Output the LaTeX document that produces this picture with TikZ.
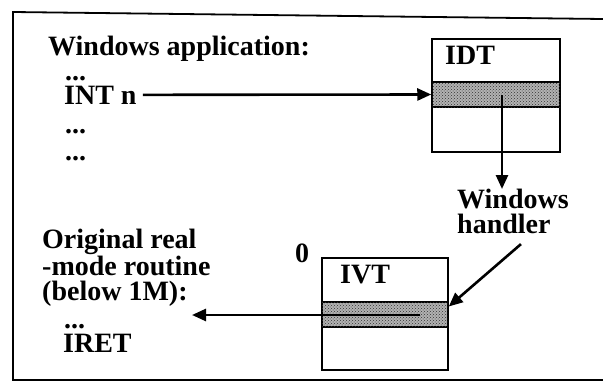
\documentclass[tikz,border=0pt]{standalone}
\usepackage{fontspec}
\setmainfont{Liberation Serif}
\usetikzlibrary{arrows.meta,patterns}
\begin{document}
\begin{tikzpicture}[x=1pt,y=-1pt,
    txt/.style={anchor=base west,inner sep=0pt,font=\fontsize{28}{25}\selectfont\bfseries},
    tablebox/.style={draw,line width=1.5pt,inner sep=0pt},
    slot/.style={draw,line width=1.5pt,inner sep=0pt,fill=black!30,
      postaction={pattern=crosshatch dots,pattern color=black!80}},
    ptr/.style={line width=2.6pt,-{Triangle[length=14pt,width=12pt]}}]
    \useasboundingbox (0,0) rectangle (603,391);
    %cadre
    \draw[line width=1.8pt] (603,19) -- (13,12) -- (13,380) -- (603,380);
    %application Windows
    \node[txt] (app) at (48,55) {Windows application:};
    \node[txt] (dotsa) at (65,80) {...};
    \node[txt] (intn) at (64,104) {INT n};
    \node[txt] (dotsb) at (65,133) {...};
    \node[txt] (dotsc) at (65,160) {...};
    %IDT
    \node[tablebox,minimum width=128pt,minimum height=113pt] (idt) at (496,95.5) {};
    \node[slot,minimum width=128pt,minimum height=25pt] (idtslot) at (496,94.5) {};
    \node[txt] (idtlbl) at (445,64) {IDT};
    %gestionnaire Windows
    \node[txt,anchor=north west,align=left] (winh) at (457,189) {Windows\\handler};
    %IVT
    \node[txt] (zero) at (295,262) {0};
    \node[tablebox,minimum width=126pt,minimum height=112pt] (ivt) at (385,314) {};
    \node[slot,minimum width=126pt,minimum height=25pt] (ivtslot) at (385,314.5) {};
    \node[txt] (ivtlbl) at (340,283) {IVT};
    %routine en mode reel
    \node[txt] (orig) at (42,248) {Original real};
    \node[txt] (mode) at (42,275) {-mode routine};
    \node[txt] (below) at (42,300) {(below 1M):};
    \node[txt] (dotsd) at (64,328) {...};
    \node[txt] (iret) at (63,352) {IRET};
    %fleches
    \coordinate (idtsrc) at (502,95);
    \coordinate (ivtsrc) at (420,315);
    \coordinate (routine) at (192,315);
    \draw[ptr] ([xshift=6pt]intn.east) -- (idtslot.west);
    \draw[ptr] (idtsrc) -- (idtsrc |- winh.north);
    \draw[ptr] ([shift={(8,10)}]winh.south) -- ([yshift=8pt]ivtslot.east);
    \draw[ptr] (ivtsrc) -- (routine);
\end{tikzpicture}
\end{document}
